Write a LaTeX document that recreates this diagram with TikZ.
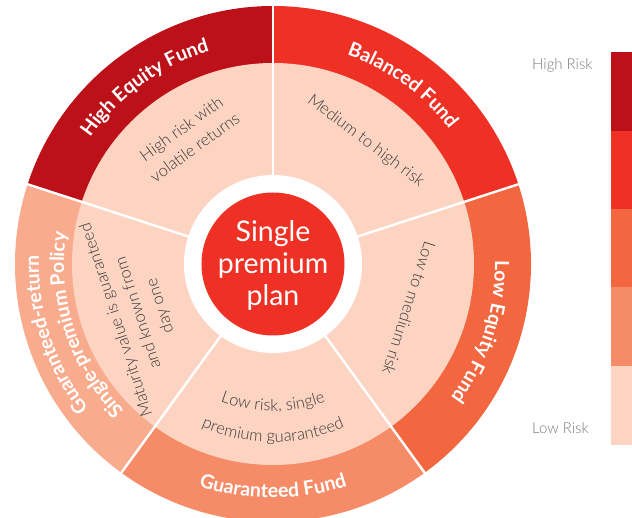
\documentclass[tikz,border=0pt]{standalone}
\usepackage{fontspec}
\setmainfont{Lato}
\newfontfamily\lightfont{Lato Light}
\usetikzlibrary{decorations.text}
\definecolor{cHigh}{HTML}{BD111A}
\definecolor{cBal}{HTML}{EE3124}
\definecolor{cLowEq}{HTML}{F26640}
\definecolor{cGuar}{HTML}{F58B67}
\definecolor{cGret}{HTML}{F8AB8D}
\definecolor{cInner}{HTML}{FDD4C2}
\definecolor{cText}{HTML}{3A3A3A}
\definecolor{cLegend}{HTML}{7A7A7A}
\newcommand\bandfont{\bfseries\fontsize{19.5}{22}\selectfont}
\newcommand\descfont{\lightfont\fontsize{16.5}{23}\selectfont}
\begin{document}
\begin{tikzpicture}[x=1pt,y=1pt,
  desc/.style={font=\descfont, text=cText, align=center, inner sep=0pt},
  legendtext/.style={font=\lightfont\fontsize{15}{18}\selectfont, text=cLegend, anchor=west, inner sep=0pt},
  divider/.style={white, line width=2.4pt},
  bandlabel/.style={decorate, decoration={text along path, text align=center, text color=white}},
  arclabel/.style={decorate, decoration={text along path, text align=center, text color=cText}},
]
\useasboundingbox (-273,-254) rectangle (359,264);
\clip (-273,-254) rectangle (359,264);
% outer band sectors
\foreach \a/\c in {90/cHigh, 18/cBal, -54/cLowEq, -126/cGuar, 162/cGret}
  \fill[\c] (0,0) -- (\a:258) arc[start angle=\a, delta angle=72, radius=258] -- cycle;
% inner ring
\fill[cInner] (0,0) circle[radius=201];
\fill[white] (0,0) circle[radius=89];
\foreach \a in {90,18,-54,-126,162}
  \draw[divider] (\a:88) -- (\a:262);
% centre
\fill[cBal] (0,0) circle[radius=71.5];
\node[text=white, align=center, inner sep=0pt, font=\fontsize{28.5}{32}\selectfont] (centre) at (0,-1) {Single\\premium\\plan};
% band labels
\path[bandlabel, decoration={text={|\bandfont|High Equity Fund}}] (162:222) arc[start angle=162, end angle=90, radius=222];
\path[bandlabel, decoration={text={|\bandfont|Balanced Fund}}] (90:222) arc[start angle=90, end angle=18, radius=222];
\path[bandlabel, decoration={text={|\bandfont|Low Equity Fund}}] (18:222) arc[start angle=18, end angle=-54, radius=222];
\path[bandlabel, decoration={text={|\bandfont|Guaranteed Fund}}] (-126:234) arc[start angle=-126, end angle=-54, radius=234];
\path[bandlabel, decoration={text={|\bandfont|Guaranteed-return}}] (234:234) arc[start angle=234, end angle=162, radius=234];
\path[bandlabel, decoration={text={|\bandfont|Single-premium Policy}}] (234:209) arc[start angle=234, end angle=162, radius=209];
% descriptions
\node[desc, rotate=36] (d1) at (124:152) {High risk with\\volatile returns};
\node[desc, rotate=-37] (d2) at (53:154) {Medium to high risk};
\node[desc, rotate=-108] (d3) at (-18:143) {Low to medium risk};
\node[desc, rotate=108] (d5) at (200:143) {Maturity value is guaranteed\\and known from\\day one};
\path[arclabel, decoration={text={|\descfont|Low risk, single}}] (-126:147) arc[start angle=-126, end angle=-54, radius=147];
\path[arclabel, decoration={text={|\descfont|premium guaranteed}}] (-126:178) arc[start angle=-126, end angle=-54, radius=178];
% legend
\fill[cHigh] (338,212) rectangle (360,133);
\fill[cBal] (338,133) rectangle (360,55);
\fill[cLowEq] (338,55) rectangle (360,-23);
\fill[cGuar] (338,-23) rectangle (360,-102);
\fill[cInner] (338,-102) rectangle (360,-181);
\node[legendtext] (hr) at (259,199) {High Risk};
\node[legendtext] (lr) at (259,-164) {Low Risk};
\end{tikzpicture}
\end{document}
